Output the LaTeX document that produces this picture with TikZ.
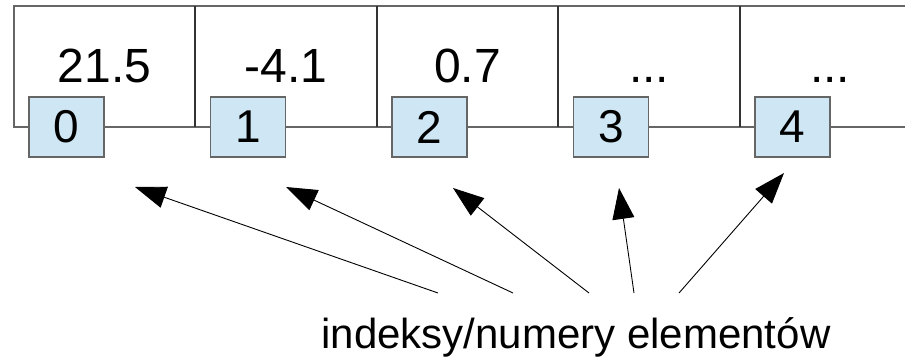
\documentclass[tikz,border=0pt]{standalone}
\usepackage{fontspec}
\setmainfont{Liberation Sans}
\usetikzlibrary{arrows.meta}
\definecolor{idxfill}{HTML}{CFE6F4}
\definecolor{edge}{HTML}{666666}
\definecolor{divider}{HTML}{333333}
\begin{document}
\begin{tikzpicture}[x=1pt,y=-1pt,
  cellline/.style={draw=edge, line width=1.3pt},
  divline/.style={draw=divider, line width=1.3pt},
  idx/.style={draw=edge, fill=idxfill, line width=1.2pt, minimum width=75pt, minimum height=60pt, inner sep=0pt, font=\fontsize{46}{46}\selectfont},
  val/.style={font=\fontsize{48}{48}\selectfont, anchor=base},
  lbl/.style={font=\fontsize{42}{42}\selectfont, anchor=base},
  ptr/.style={-{Triangle[length=31pt,width=22pt]}, line width=0.9pt, draw=black}]
\useasboundingbox (0,0) rectangle (905,358);
% array frame
\draw[cellline] (905,6) -- (14,6) -- (14,127) -- (905,127);
\foreach \x in {195,377,558,740} \draw[divline] (\x,6) -- (\x,127);
% values
\node[val] (v0) at (104.5,83) {21.5};
\node[val] (v1) at (286,83) {-4.1};
\node[val] (v2) at (467.5,83) {0.7};
\node[val] (v3) at (649,83) {...};
\node[val] (v4) at (830,83) {...};
% indices
\node[idx] (i0) at (66.5,127) {0};
\node[idx] (i1) at (248,127) {1};
\node[idx] (i2) at (429.5,127) {2};
\node[idx] (i3) at (611,127) {3};
\node[idx] (i4) at (792.5,127) {4};
% label
\node[lbl] (lab) at (576,348) {indeksy/numery elementów};
% arrows
\coordinate (t0) at (438,293); \coordinate (h0) at (135,187);
\coordinate (t1) at (513,293); \coordinate (h1) at (286,187);
\coordinate (t2) at (589,293); \coordinate (h2) at (453,188);
\coordinate (t3) at (634,293); \coordinate (h3) at (619,188);
\coordinate (t4) at (679,293); \coordinate (h4) at (784,173);
\foreach \k in {0,...,4} \draw[ptr] (t\k) -- (h\k);
\end{tikzpicture}
\end{document}
